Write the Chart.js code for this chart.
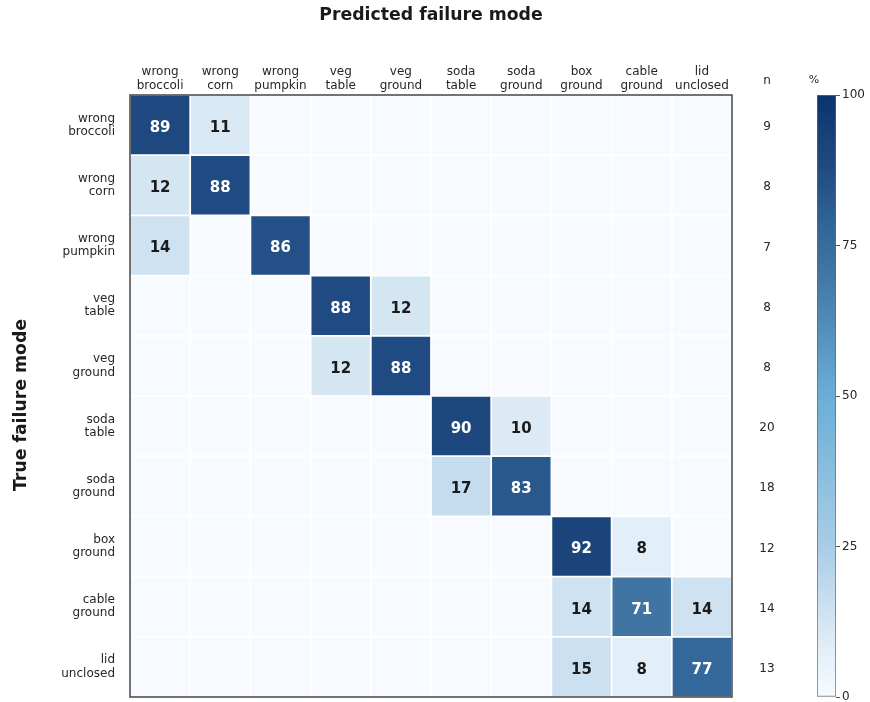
<!DOCTYPE html>
<html>
<head>
<meta charset="utf-8">
<script src="https://cdn.jsdelivr.net/npm/chart.js@4.4.0/dist/chart.umd.min.js"></script>
<style>
  body { margin: 0; background: #fff; }
  #wrap { position: relative; width: 870px; height: 702px; }
  #main { position: absolute; left: 0; top: 0; }
  #cbar { position: absolute; left: 780px; top: 0; }
</style>
</head>
<body>
<div id="wrap">
  <canvas id="main" width="870" height="702"></canvas>
  <canvas id="cbar" width="90" height="702"></canvas>
</div>
<script>
// data read from the confusion matrix
const predLabels = [
  ["wrong", "broccoli"], ["wrong", "corn"], ["wrong", "pumpkin"],
  ["veg", "table"], ["veg", "ground"], ["soda", "table"], ["soda", "ground"],
  ["box", "ground"], ["cable", "ground"], ["lid", "unclosed"]
];
const trueLabels = predLabels;
const percent = [
  [89, 11, 0, 0, 0, 0, 0, 0, 0, 0],
  [12, 88, 0, 0, 0, 0, 0, 0, 0, 0],
  [14, 0, 86, 0, 0, 0, 0, 0, 0, 0],
  [0, 0, 0, 88, 12, 0, 0, 0, 0, 0],
  [0, 0, 0, 12, 88, 0, 0, 0, 0, 0],
  [0, 0, 0, 0, 0, 90, 10, 0, 0, 0],
  [0, 0, 0, 0, 0, 17, 83, 0, 0, 0],
  [0, 0, 0, 0, 0, 0, 0, 92, 8, 0],
  [0, 0, 0, 0, 0, 0, 0, 14, 71, 14],
  [0, 0, 0, 0, 0, 0, 0, 15, 8, 77]
];
const nCounts = [9, 8, 7, 8, 8, 20, 18, 12, 14, 13];
const cbTicks = [0, 25, 50, 75, 100];

// blues-like colour ramp (value -> colour)
const rampStops = [
  [0, "#f7fbff"], [8, "#e2eef8"], [14, "#cfe2f1"], [25, "#a8cde6"],
  [50, "#6aaed6"], [71, "#3f74a3"], [77, "#35689a"], [88, "#1f4b82"],
  [92, "#1a447a"], [100, "#0b3370"]
];
function hex(h) {
  return [1, 3, 5].map((i) => parseInt(h.slice(i, i + 2), 16));
}
function ramp(v) {
  for (let i = 1; i < rampStops.length; i++) {
    const [v1, c1] = rampStops[i];
    const [v0, c0] = rampStops[i - 1];
    if (v <= v1) {
      const t = (v - v0) / (v1 - v0);
      const a = hex(c0), b = hex(c1);
      return "rgb(" + a.map((x, k) => Math.round(x + (b[k] - x) * t)).join(",") + ")";
    }
  }
  return rampStops[rampStops.length - 1][1];
}

const FONT = "'DejaVu Sans', sans-serif";
const TXT = "#262626";
Chart.defaults.font.family = FONT;
Chart.defaults.color = TXT;

// cell numbers, n column, frame
const matrixDecor = {
  id: "matrixDecor",
  afterDatasetsDraw(chart) {
    const ctx = chart.ctx;
    const yScale = chart.scales.y;
    ctx.save();
    ctx.textAlign = "center";
    ctx.textBaseline = "middle";
    ctx.font = "bold 15px " + FONT;
    chart.data.datasets.forEach((ds, r) => {
      chart.getDatasetMeta(r).data.forEach((bar, c) => {
        const v = percent[r][c];
        if (!v) return;
        ctx.fillStyle = v > 50 ? "#ffffff" : "#1a1a1a";
        ctx.fillText(String(v), bar.x, (bar.y + bar.base) / 2 + 3);
      });
    });
    // n column
    const nx = chart.chartArea.right + 35;
    ctx.font = "12px " + FONT;
    ctx.fillStyle = TXT;
    ctx.fillText("n", nx, 81);
    nCounts.forEach((n, r) => {
      ctx.fillText(String(n), nx, yScale.getPixelForValue(r + 0.5) + 2);
    });
    // frame
    const a = chart.chartArea;
    ctx.strokeStyle = "#454545";
    ctx.lineWidth = 1.5;
    ctx.strokeRect(a.left, a.top, a.right - a.left, a.bottom - a.top);
    ctx.restore();
  }
};

new Chart(document.getElementById("main"), {
  type: "bar",
  data: {
    labels: predLabels,
    datasets: percent.map((row, r) => ({
      data: row.map(() => [r, r + 1]),
      backgroundColor: row.map((v) => ramp(v)),
      borderColor: "#ffffff",
      borderWidth: 1.2,
      borderSkipped: false,
      grouped: false,
      barPercentage: 1,
      categoryPercentage: 1
    }))
  },
  options: {
    responsive: false,
    animation: false,
    layout: { padding: { top: 0, left: 0, right: 138, bottom: 5 } },
    plugins: { legend: { display: false }, tooltip: { enabled: false } },
    scales: {
      x: {
        position: "top",
        grid: { display: false, drawTicks: false },
        border: { display: false },
        ticks: {
          autoSkip: false, maxRotation: 0, padding: 3,
          font: { size: 12, lineHeight: 1.1 }, color: TXT
        },
        title: {
          display: true, text: "Predicted failure mode", color: "#1a1a1a",
          font: { size: 17.3, weight: "bold" }, padding: { top: 5, bottom: 0 }
        },
        afterFit(scale) {
          scale.height = 95;
          scale.paddingLeft = 0;
          scale.paddingRight = 0;
        }
      },
      y: {
        type: "linear",
        min: 0, max: 10, reverse: true,
        grid: { display: false, drawTicks: false },
        border: { display: false },
        afterBuildTicks(scale) {
          scale.ticks = trueLabels.map((_, i) => ({ value: i + 0.5 }));
        },
        ticks: {
          autoSkip: false, padding: 15,
          font: { size: 12, lineHeight: 1.1 }, color: TXT,
          callback: (v) => trueLabels[Math.floor(v)]
        },
        title: {
          display: true, text: "True failure mode   ", color: "#1a1a1a",
          font: { size: 17.3, weight: "bold" }, padding: { top: 11, bottom: 0 }
        },
        afterFit(scale) {
          scale.width = 130;
          scale.paddingTop = 0;
          scale.paddingBottom = 0;
        }
      }
    }
  },
  plugins: [matrixDecor]
});

// colour bar
const cbCaption = {
  id: "cbCaption",
  afterDraw(chart) {
    const ctx = chart.ctx;
    ctx.save();
    ctx.font = "11px " + FONT;
    ctx.fillStyle = TXT;
    ctx.textAlign = "center";
    ctx.textBaseline = "middle";
    ctx.fillText("%", chart.chartArea.left - 3, 80);
    ctx.restore();
  }
};

new Chart(document.getElementById("cbar"), {
  type: "bar",
  data: {
    labels: [""],
    datasets: [{
      data: [[cbTicks[0], cbTicks[cbTicks.length - 1]]],
      backgroundColor(c) {
        const area = c.chart.chartArea;
        if (!area) return "#6aaed6";
        const g = c.chart.ctx.createLinearGradient(0, area.bottom, 0, area.top);
        rampStops.forEach(([v, col]) => g.addColorStop(v / 100, col));
        return g;
      },
      borderColor: "#666666",
      borderWidth: 1,
      borderSkipped: false,
      barPercentage: 1,
      categoryPercentage: 1
    }]
  },
  options: {
    responsive: false,
    animation: false,
    layout: { padding: { top: 95, left: 37, right: 0, bottom: 5 } },
    plugins: { legend: { display: false }, tooltip: { enabled: false } },
    scales: {
      x: { display: false },
      y: {
        position: "right",
        min: 0, max: 100,
        afterBuildTicks(scale) {
          scale.ticks = cbTicks.map((v) => ({ value: v }));
        },
        grid: { drawOnChartArea: false, drawTicks: true, tickLength: 4, color: "#555555" },
        border: { display: false },
        ticks: { padding: 2, font: { size: 12 }, color: TXT },
        afterFit(scale) {
          scale.width = 34;
          scale.paddingTop = 0;
          scale.paddingBottom = 0;
        }
      }
    }
  },
  plugins: [cbCaption]
});
</script>
</body>
</html>
